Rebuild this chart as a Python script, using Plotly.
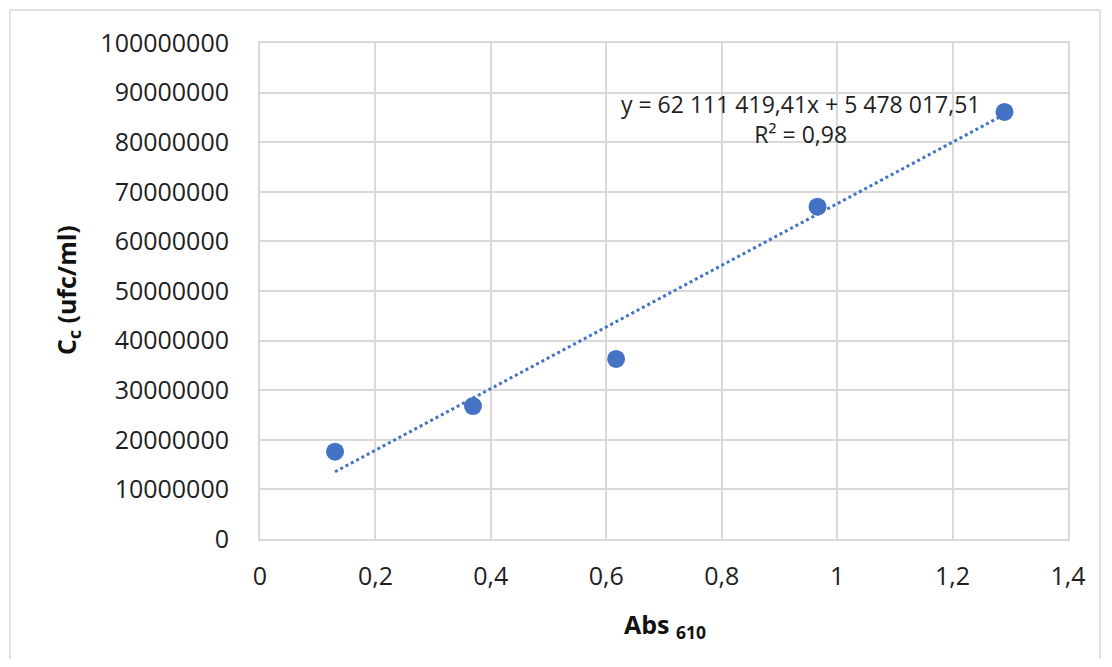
import plotly.graph_objects as go

# Data
abs_610 = [0.13, 0.369, 0.617, 0.966, 1.29]
cc_ufc_ml = [17.6e6, 26.8e6, 36.3e6, 67.0e6, 86.1e6]

# Trendline coefficients as printed on the chart
slope = 62111419.41
intercept = 5478017.51
equation_text = "y = 62 111 419,41x + 5 478 017,51<br>R² = 0,98"

x_tickvals = [0, 0.2, 0.4, 0.6, 0.8, 1.0, 1.2, 1.4]
x_ticktext = ["0", "0,2", "0,4", "0,6", "0,8", "1", "1,2", "1,4"]
y_tickvals = [0, 10e6, 20e6, 30e6, 40e6, 50e6, 60e6, 70e6, 80e6, 90e6, 100e6]
y_ticktext = ["0", "10000000", "20000000", "30000000", "40000000", "50000000",
              "60000000", "70000000", "80000000", "90000000", "100000000"]

BLUE = "#4472C4"
GRID = "#D9D9D9"
TXT = "#1e1e1e"
FONT = "Open Sans"

trend_x = [min(abs_610), max(abs_610)]
trend_y = [slope * v + intercept for v in trend_x]

fig = go.Figure()
fig.add_trace(go.Scatter(
    x=trend_x, y=trend_y, mode="lines",
    line=dict(color=BLUE, width=3, dash="dot"),
    hoverinfo="skip", showlegend=False))
fig.add_trace(go.Scatter(
    x=abs_610, y=cc_ufc_ml, mode="markers",
    marker=dict(color=BLUE, size=18, line=dict(width=0)),
    showlegend=False))

# page body has an 8px margin; figure coords = screen coords - 8
OFF = 8
W, H = 1096, 651
PL, PR, PT, PB = 260, 1068, 43, 539          # plot area in screen pixels
L, R, T, B = PL - OFF, W - (PR - OFF), PT - OFF, H - (PB - OFF)
pw, ph = W - L - R, H - T - B

def sx(px):
    return (px - PL) / pw

def sy(py):
    return (PB - py) / ph

fig.update_layout(
    width=W, height=H,
    margin=dict(l=L, r=R, t=T, b=B),
    paper_bgcolor="white", plot_bgcolor="white",
    font=dict(family=FONT, color=TXT, size=25),
    xaxis=dict(range=[0, 1.4], tickvals=x_tickvals, ticktext=x_ticktext,
               showgrid=True, gridcolor=GRID, gridwidth=2,
               showline=True, linecolor=GRID, linewidth=2, mirror=True,
               zeroline=False, ticks="", ticklabelstandoff=14,
               tickfont=dict(size=25, family=FONT, color=TXT)),
    yaxis=dict(range=[0, 100e6], tickvals=y_tickvals, ticktext=y_ticktext,
               showgrid=True, gridcolor=GRID, gridwidth=2,
               showline=True, linecolor=GRID, linewidth=2, mirror=True,
               zeroline=False, ticks="", ticklabelstandoff=24,
               tickfont=dict(size=25, family=FONT, color=TXT)),
    shapes=[dict(type="rect", xref="paper", yref="paper",
                 x0=sx(10), x1=sx(1100),
                 y0=sy(700), y1=sy(10),
                 line=dict(color="#D9D9D9", width=1.5), layer="below")],
    annotations=[
        dict(text=equation_text, xref="paper", yref="paper",
             x=sx(800), y=sy(119),
             xanchor="center", yanchor="middle", showarrow=False,
             align="center", font=dict(size=23, family=FONT, color=TXT)),
        dict(text="<b>C<sub>c</sub> (ufc/ml)</b>", xref="paper", yref="paper",
             x=sx(67), y=sy(290), textangle=-90,
             xanchor="center", yanchor="middle", showarrow=False,
             font=dict(size=25, family=FONT, color="#111111")),
        dict(text="<b>Abs <sub>610</sub></b>", xref="paper", yref="paper",
             x=sx(665), y=sy(625),
             xanchor="center", yanchor="middle", showarrow=False,
             font=dict(size=25, family=FONT, color="#111111")),
    ],
)

fig.write_html("out.html")
